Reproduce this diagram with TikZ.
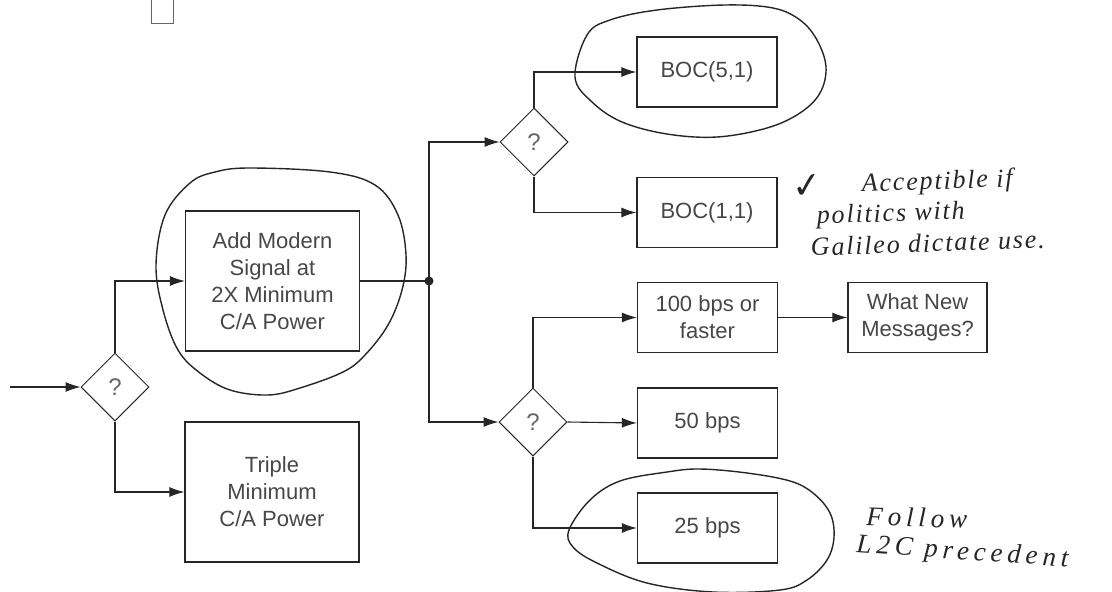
\documentclass[tikz,border=0pt]{standalone}
\usepackage{fontspec}
\setmainfont{Liberation Sans}
\newfontfamily\hand{Liberation Serif}
\newfontfamily\symf{DejaVu Sans}
\usetikzlibrary{shapes.geometric,arrows.meta}
\begin{document}
\begin{tikzpicture}[x=1pt,y=-1pt,
  box/.style={draw=black!85, line width=1.3pt, minimum width=140pt, minimum height=70pt,
    inner sep=0pt, align=center, font=\fontsize{22}{27}\selectfont, text=black!72},
  bigbox/.style={box, minimum width=174pt, minimum height=140pt},
  dia/.style={diamond, draw=black!85, line width=1pt, minimum width=68pt, minimum height=68pt,
    inner sep=0pt, font=\fontsize{24}{26}\selectfont, text=black!60},
  conn/.style={draw=black!85, line width=1.1pt, -{Latex[length=15pt,width=10pt]}},
  plain/.style={draw=black!85, line width=1.1pt},
  blob/.style={draw=black!85, line width=1.4pt},
  note/.style={font=\hand\itshape\fontsize{26}{28}\selectfont\addfontfeature{LetterSpace=7},
    text=black!85, anchor=base west, inner sep=0pt},
  wide/.style={font=\hand\itshape\fontsize{27}{30}\selectfont\addfontfeature{LetterSpace=18}}
]
\useasboundingbox (0,0) rectangle (1112,592);

% small partial box at top
\draw[black!60, line width=1pt] (151,-3) rectangle (173,23);

% nodes
\coordinate (start) at (10,387);
\node[dia] (d1) at (115,387) {?};
\node[bigbox] (add) at (272.5,281) {Add Modern\\Signal at\\2X Minimum\\C/A Power};
\node[bigbox] (triple) at (272,492) {Triple\\Minimum\\C/A Power};
\coordinate (jn) at (429,281);
\node[dia] (d2) at (534,142) {?};
\node[dia] (d3) at (533,422) {?};
\node[box] (boc5) at (707,72) {BOC(5,1)};
\node[box] (boc1) at (707,212.5) {BOC(1,1)};
\node[box] (b100) at (707.5,317.5) {100 bps or\\faster};
\node[box] (b50) at (707.5,423) {50 bps};
\node[box] (b25) at (707.5,528) {25 bps};
\node[box, minimum width=139pt] (what) at (917.5,317.5) {What New\\Messages?};

% connectors
\draw[conn] (start) -- (d1.west);
\draw[conn] (d1.north) |- (add.west);
\draw[conn] (d1.south) |- (triple.west);
\draw[plain] (add.east) -- (jn);
\fill[black!85] (jn) circle (4.5pt);
\draw[conn] (jn) |- (d2.west);
\draw[conn] (jn) |- (d3.west);
\draw[conn] (d2.north) |- (boc5.west);
\draw[conn] (d2.south) |- (boc1.west);
\draw[conn] (d3.north) |- (b100.west);
\draw[conn] (d3.east) -- (b50.west);
\draw[conn] (d3.south) |- (b25.west);
\draw[conn] (b100.east) -- (what.west);

% hand-drawn loops
\draw[blob] plot[smooth cycle, tension=0.6] coordinates {
  (250,168) (330,172) (375,185) (398,215) (406,255) (402,290) (388,325) (365,355)
  (343,372) (300,388) (268,395) (230,390) (200,373) (178,350) (163,310) (156,265)
  (165,215) (190,183) (215,172)};
\draw[blob] plot[smooth cycle, tension=0.6] coordinates {
  (575,77) (587,35) (610,20) (657,10) (725,5) (773,8) (800,20) (817,40) (826,67)
  (820,93) (800,113) (767,128) (717,137) (667,134) (622,122) (592,102)};
\draw[blob] plot[smooth cycle, tension=0.6] coordinates {
  (569,530) (590,500) (620,481) (667,472) (700,469) (747,473) (790,481) (813,493)
  (830,513) (834,537) (827,560) (807,580) (780,590) (713,592) (647,583) (597,563) (573,547)};

% handwritten notes
\node[font=\symf\fontsize{36}{36}\selectfont, text=black!85, anchor=base west, inner sep=0pt, rotate=6] (chk) at (793,200) {✓};
\node[note, rotate=2] (n1) at (862,192) {Acceptible if};
\node[note, rotate=2] (n2) at (817,224) {politics with};
\node[note, rotate=2] (n3) at (811,256) {Galileo dictate use.};
\node[note, wide, rotate=-2] (n4) at (866,525) {Follow};
\node[note, wide, rotate=-4] (n5) at (856,552) {L2C precedent};
\end{tikzpicture}
\end{document}
